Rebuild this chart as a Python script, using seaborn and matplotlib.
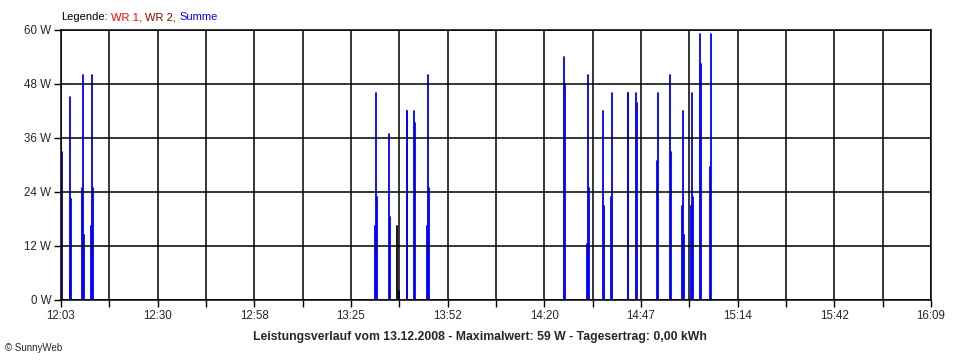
import numpy as np
import pandas as pd
import matplotlib
matplotlib.use('Agg')
import matplotlib.pyplot as plt
import seaborn as sns

# ----------------------------------------------------------------------------
# Daten (abgelesen aus dem SunnyWeb-Diagramm vom 13.12.2008)
# ----------------------------------------------------------------------------
start_zeit = '12:03'
ende_zeit = '16:09'
x_labels = ['12:03', '12:30', '12:58', '13:25', '13:52',
            '14:20', '14:47', '15:14', '15:42', '16:09']
y_werte = [0, 12, 24, 36, 48, 60]

summe_zeit = ['12:03:00', '12:03:17',
              '12:05:28', '12:05:38', '12:05:50',
              '12:09:01', '12:09:13', '12:09:25',
              '12:11:29', '12:11:46', '12:12:03',
              '13:31:52', '13:32:09', '13:32:25',
              '13:35:50', '13:36:07',
              '13:38:35',
              '13:40:42', '13:40:55',
              '13:42:49', '13:43:06',
              '13:46:35', '13:46:52', '13:47:04',
              '14:25:22', '14:25:36',
              '14:31:49', '14:32:01', '14:32:18',
              '14:36:21', '14:36:38',
              '14:38:37', '14:38:54',
              '14:43:11', '14:43:25',
              '14:45:36', '14:45:52',
              '14:51:32', '14:51:54',
              '14:55:12', '14:55:29',
              '14:58:41', '14:58:53', '14:59:10',
              '15:01:14', '15:01:26', '15:01:43',
              '15:03:46', '15:04:03',
              '15:06:36', '15:06:48']
summe_watt = [16.5, 33.0,
              4.1, 45.2, 22.4,
              24.8, 50.0, 14.4,
              16.5, 50.0, 24.8,
              16.5, 45.9, 23.0,
              37.0, 18.5,
              2.0,
              42.0, 42.0,
              42.0, 39.4,
              16.5, 50.0, 24.8,
              54.1, 47.9,
              12.4, 50.0, 24.8,
              42.0, 20.9,
              22.9, 45.9,
              45.9, 45.9,
              45.9, 43.7,
              30.9, 45.9,
              50.0, 32.9,
              21.0, 42.0, 14.4,
              21.0, 46.0, 22.9,
              59.1, 52.4,
              29.6, 59.1]

wr2_zeit = ['13:38:06']
wr2_watt = [16.5]

titel = 'Leistungsverlauf vom 13.12.2008 - Maximalwert: 59 W - Tagesertrag: 0,00 kWh'


def in_minuten(s):
    teile = [int(p) for p in s.split(':')]
    if len(teile) == 2:
        teile.append(0)
    return teile[0] * 60 + teile[1] + teile[2] / 60.0


# Jede Messung als senkrechte Linie 0 -> Wert (long format fuer seaborn)
zeilen = []
lid = 0
for serie, zeiten, werte in [('Summe', summe_zeit, summe_watt),
                             ('WR 2', wr2_zeit, wr2_watt)]:
    for z, w in zip(zeiten, werte):
        t = in_minuten(z)
        zeilen.append({'minute': t, 'watt': 0.0, 'serie': serie, 'id': lid})
        zeilen.append({'minute': t, 'watt': w, 'serie': serie, 'id': lid})
        lid += 1
df = pd.DataFrame(zeilen)

# ----------------------------------------------------------------------------
# Plot
# ----------------------------------------------------------------------------
sns.set_style('white')
plt.rcParams['font.family'] = ['Liberation Sans', 'DejaVu Sans']

fig = plt.figure(figsize=(9.6, 3.6), dpi=100)
ax = fig.add_axes([61 / 960, 60 / 360, 870 / 960, 270 / 360])

sns.lineplot(data=df, x='minute', y='watt', hue='serie', units='id',
             estimator=None, sort=False, legend=False, ax=ax,
             palette={'Summe': '#0000FF', 'WR 2': '#000000'},
             linewidth=1.3, zorder=2)

t0, t1 = in_minuten(start_zeit), in_minuten(ende_zeit)
ax.set_xlim(t0, t1)
ax.set_ylim(0, 60)

x_ticks = np.linspace(t0, t1, 2 * len(x_labels) - 1)
ax.set_xticks(x_ticks)
tick_text = [x_labels[i // 2] if i % 2 == 0 else '' for i in range(len(x_ticks))]
ax.set_xticklabels(tick_text, fontsize=8.3)
ax.set_yticks(y_werte)
ax.set_yticklabels([f'{v} W' for v in y_werte], fontsize=8.3)

ax.tick_params(axis='both', direction='out', length=5, width=1,
               color='black', pad=2, bottom=True, left=True)
ax.set_xlabel('')
ax.set_ylabel('')

ax.set_axisbelow(False)
ax.grid(True, color='black', linewidth=1.1)
for s in ax.spines.values():
    s.set_color('black')
    s.set_linewidth(1.1)

# Legende oben links, mehrfarbig (jedes Stueck rechts an das vorige gehaengt)
vorher = fig.text(61 / 960, 343 / 360, 'Legende:', color='black',
                  fontsize=8, ha='left', va='center')
for teil, farbe in [('WR 1,', '#FF0000'), ('WR 2,', '#990000'),
                    ('Summe', '#0000FF')]:
    vorher = ax.annotate(teil, xy=(1, 0.5), xycoords=vorher, xytext=(2.5, 0),
                         textcoords='offset points', color=farbe, fontsize=8,
                         ha='left', va='center', annotation_clip=False)

# Titel unten
fig.text(480 / 960, 23 / 360, titel, ha='center', va='center',
         fontsize=8.8, fontweight='bold')
fig.text(5 / 960, 12 / 360, '\u00a9 SunnyWeb', fontsize=7, ha='left',
         va='center')

fig.savefig('out.png', dpi=100)
plt.close(fig)
